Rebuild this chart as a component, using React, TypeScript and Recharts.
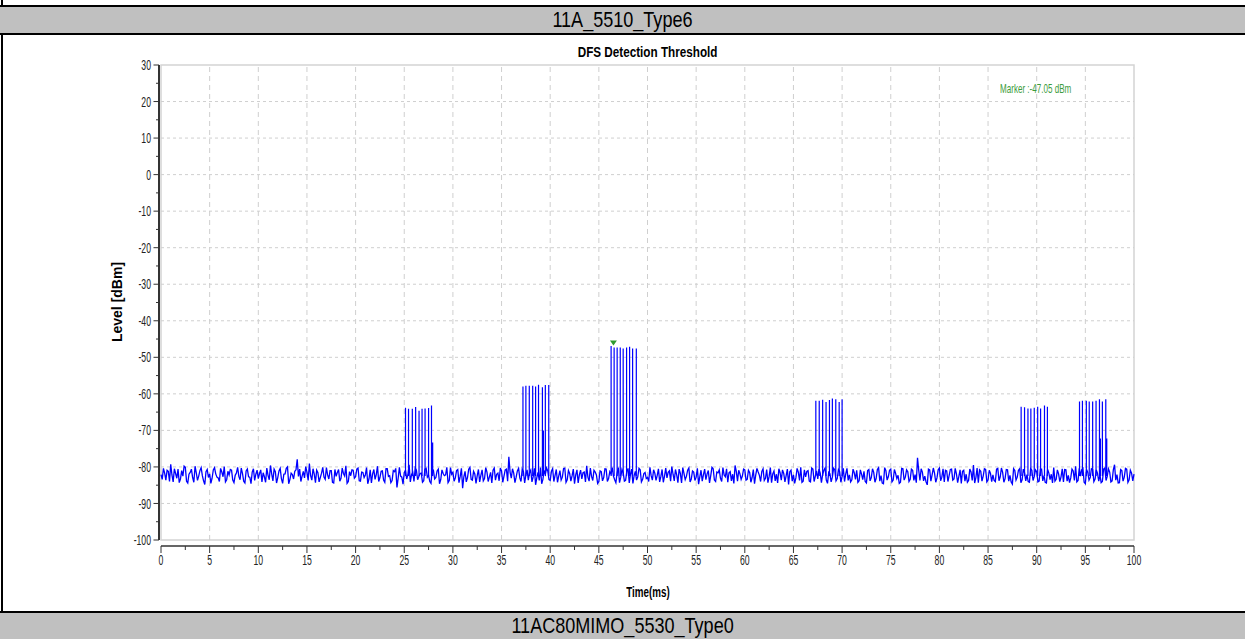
import { ComposedChart, Line, XAxis, YAxis, ReferenceLine, ReferenceArea, ReferenceDot } from "recharts";

// noise floor readings, every 0.25 ms from 0 to 100 ms
const noiseStepMs = 0.25;
const noiseLevels = [
  -82.1, -80.4, -83.6, -81.2, -79.3, -84.1, -81.8, -80.6, -83.3, -82.5,
  -80.1, -84.4, -81.5, -82.9, -79.8, -83.7, -81.0, -82.4, -84.8, -80.7,
  -81.9, -83.1, -80.2, -82.8, -84.0, -81.4, -79.9, -83.5, -82.2, -80.9,
  -84.3, -81.7, -82.6, -80.3, -83.9, -81.1, -82.7, -84.6, -80.5, -82.0,

  -83.2, -80.8, -81.6, -84.2, -82.3, -79.6, -83.8, -81.3, -82.9, -80.4,
  -84.5, -81.9, -80.0, -83.4, -82.1, -81.2, -77.9, -80.6, -82.5, -83.0,
  -81.4, -79.1, -83.6, -82.0, -80.9, -84.1, -81.7, -82.8, -80.2, -83.3,
  -81.0, -84.4, -82.6, -80.7, -83.1, -81.8, -79.7, -84.0, -82.4, -80.9,

  -82.7, -80.3, -83.9, -81.5, -82.2, -84.6, -80.8, -81.9, -83.4, -79.8,
  -82.9, -81.1, -84.2, -80.5, -82.4, -83.7, -81.3, -85.6, -80.1, -82.8,
  -81.6, -83.3, -79.4, -82.1, -84.0, -80.9, -82.6, -81.7, -83.8, -80.4,
  -82.3, -84.5, -81.0, -82.9, -80.6, -83.5, -81.8, -82.2, -84.3, -80.2,

  -81.5, -83.0, -80.7, -82.6, -85.8, -81.2, -82.9, -80.1, -83.6, -81.9,
  -82.4, -84.1, -80.8, -83.2, -81.4, -82.7, -84.4, -80.3, -82.0, -83.8,
  -81.1, -82.5, -80.6, -77.2, -83.1, -81.7, -82.8, -80.4, -84.0, -81.3,
  -82.2, -83.6, -80.9, -82.7, -84.9, -81.5, -80.2, -83.4, -82.0, -81.1,

  -83.7, -80.5, -82.3, -84.2, -81.0, -82.8, -80.3, -83.5, -81.8, -82.4,
  -84.6, -80.8, -82.1, -83.3, -81.4, -79.7, -83.9, -82.6, -80.9, -82.2,
  -84.0, -81.3, -82.9, -80.6, -83.2, -81.9, -82.5, -84.3, -80.2, -82.8,
  -81.6, -83.7, -80.4, -82.0, -84.5, -81.2, -82.7, -80.8, -83.4, -81.5,

  -82.9, -80.1, -83.6, -81.7, -82.3, -84.1, -80.7, -82.5, -83.0, -81.1,
  -79.9, -83.8, -82.2, -80.6, -84.4, -81.8, -82.6, -80.3, -83.3, -81.4,
  -82.8, -84.7, -80.9, -82.1, -83.5, -81.0, -82.4, -80.5, -84.0, -81.6,
  -83.1, -80.2, -82.7, -84.2, -81.3, -82.0, -79.6, -83.9, -81.9, -82.5,

  -80.8, -83.4, -81.5, -82.9, -84.6, -80.4, -82.3, -81.2, -83.7, -80.7,
  -82.6, -84.3, -81.1, -82.0, -80.5, -83.6, -81.8, -82.4, -84.8, -80.9,
  -82.2, -83.0, -81.4, -80.1, -83.9, -82.7, -81.0, -84.1, -80.6, -82.5,
  -83.3, -81.7, -82.1, -80.3, -84.5, -81.9, -82.8, -80.8, -83.2, -81.3,

  -82.6, -84.0, -80.4, -82.2, -83.5, -81.6, -80.9, -83.8, -82.0, -81.2,
  -84.4, -80.7, -82.9, -81.5, -83.1, -80.2, -82.4, -84.6, -81.0, -82.7,
  -80.6, -83.6, -81.8, -82.3, -84.2, -80.5, -82.8, -81.3, -83.4, -80.9,
  -82.1, -77.5, -83.7, -81.4, -82.5, -84.9, -80.8, -82.2, -81.7, -83.0,

  -80.3, -82.8, -84.1, -81.1, -82.4, -80.6, -83.3, -81.9, -82.6, -84.5,
  -80.9, -82.0, -83.7, -81.4, -79.5, -82.9, -84.3, -81.2, -82.5, -80.7,
  -83.6, -81.8, -82.2, -84.0, -80.4, -82.7, -81.5, -83.2, -80.8, -82.3,
  -84.7, -81.0, -82.8, -80.5, -83.5, -81.6, -82.1, -84.2, -80.9, -82.6,

  -81.3, -83.9, -80.6, -82.4, -84.4, -81.7, -82.0, -80.2, -83.4, -81.9,
  -82.7, -84.1, -80.8, -82.3, -83.0, -81.1, -79.8, -83.7, -82.5, -80.4,
  -84.6, -81.5, -82.9, -80.7, -83.3, -81.8, -82.2, -84.0, -80.3, -82.6,
  -81.4, -83.8, -79.4, -82.1, -84.3, -81.0, -82.8, -80.6, -83.5, -81.7,

  -82.0,
];

// in-between readings, 0.125 ms after each of the above
const noiseLevelsMid = [
  -83.4, -81.7, -80.9, -84.0, -82.2, -80.5, -83.1, -84.3, -81.0, -79.8,
  -83.9, -82.0, -80.6, -84.2, -81.6, -82.5, -80.2, -83.8, -81.3, -82.9,
  -84.5, -80.8, -81.9, -83.0, -80.4, -82.7, -84.1, -81.2, -80.7, -83.6,
  -82.3, -80.1, -83.5, -81.8, -84.4, -80.6, -82.8, -81.4, -83.7, -80.9,

  -81.8, -84.1, -82.7, -80.3, -83.5, -81.9, -80.6, -84.4, -81.1, -83.2,
  -82.0, -80.4, -84.6, -81.7, -83.3, -80.8, -82.6, -84.0, -81.2, -79.9,
  -83.7, -82.4, -80.5, -84.3, -81.6, -82.9, -80.1, -83.4, -82.2, -81.0,
  -84.2, -80.7, -81.5, -83.9, -80.3, -82.5, -84.5, -81.3, -80.8, -83.1,

  -80.6, -83.8, -81.4, -82.9, -80.2, -83.3, -84.4, -80.7, -82.1, -84.0,
  -81.2, -83.6, -80.5, -82.6, -84.3, -81.0, -80.4, -83.1, -82.5, -84.7,
  -80.9, -82.2, -84.1, -81.5, -80.3, -83.5, -81.8, -84.2, -80.6, -82.8,
  -84.0, -80.5, -83.3, -81.1, -84.6, -80.8, -82.4, -80.1, -83.7, -82.0,

  -83.9, -81.0, -84.3, -80.4, -82.7, -84.1, -80.6, -83.4, -81.2, -84.5,
  -80.7, -82.3, -83.8, -80.2, -84.0, -81.5, -80.9, -83.6, -81.7, -80.3,
  -84.2, -80.8, -83.9, -81.4, -80.5, -84.3, -81.1, -83.0, -80.6, -84.4,
  -80.8, -81.6, -84.1, -80.4, -82.9, -83.7, -84.6, -81.0, -80.3, -83.5,

  -81.2, -84.0, -80.7, -82.5, -83.6, -80.4, -84.2, -81.0, -83.9, -80.6,
  -82.2, -84.4, -80.9, -81.6, -84.1, -82.8, -80.3, -83.7, -81.4, -84.5,
  -81.1, -83.8, -80.5, -84.0, -81.3, -80.2, -83.5, -81.7, -84.3, -80.7,
  -83.9, -81.2, -84.4, -80.6, -82.4, -83.6, -80.4, -84.1, -81.8, -83.2,

  -84.0, -82.4, -80.8, -83.7, -80.5, -82.6, -84.2, -80.3, -81.5, -83.9,
  -82.0, -80.7, -84.3, -81.8, -80.2, -83.5, -80.9, -84.1, -81.1, -83.7,
  -80.4, -82.7, -83.9, -80.6, -81.9, -84.4, -80.1, -83.6, -81.4, -80.8,
  -84.0, -82.2, -80.5, -81.6, -83.8, -84.5, -81.2, -80.9, -83.4, -80.6,

  -83.6, -80.9, -84.2, -80.7, -82.2, -81.4, -84.0, -80.5, -83.1, -84.3,
  -80.2, -81.9, -83.8, -84.4, -81.6, -80.8, -84.1, -80.6, -81.3, -83.9,
  -84.5, -80.4, -83.7, -84.2, -80.8, -81.2, -83.9, -80.3, -84.0, -81.1,
  -80.6, -84.3, -80.9, -83.6, -81.5, -84.1, -80.4, -83.8, -80.7, -84.2,

  -80.4, -81.9, -83.7, -84.1, -80.6, -83.4, -84.2, -80.8, -83.5, -84.0,
  -81.0, -83.8, -80.5, -84.2, -80.7, -83.9, -84.4, -80.2, -83.6, -80.9,
  -84.1, -80.7, -83.2, -84.5, -80.4, -83.6, -80.8, -84.0, -80.6, -83.7,
  -84.3, -80.9, -80.5, -83.8, -84.1, -80.6, -83.9, -80.3, -84.2, -80.8,

  -83.8, -80.5, -80.9, -84.0, -80.7, -83.6, -80.4, -84.3, -80.8, -81.2,
  -83.9, -84.2, -80.6, -83.7, -84.4, -80.3, -80.8, -83.9, -80.5, -84.1,
  -80.9, -84.0, -83.7, -80.6, -83.8, -80.3, -84.2, -80.7, -83.9, -84.1,
  -80.5, -83.6, -80.9, -84.3, -80.6, -83.8, -84.0, -80.5, -83.7, -80.8,

  -84.1, -80.6, -83.8, -84.2, -80.7, -83.5, -84.4, -83.9, -80.8, -84.0,
  -80.5, -80.7, -83.9, -84.3, -80.6, -83.7, -84.1, -80.4, -80.8, -84.2,
  -80.7, -83.6, -80.5, -84.0, -80.8, -83.9, -84.3, -80.6, -83.7, -80.5,
  -84.1, -80.8, -83.6, -84.4, -80.7, -83.9, -80.4, -84.2, -80.9, -83.8,
];

// radar pulses (time ms, peak dBm)
const pulseTimes = [
  25.13, 25.44, 25.83, 26.17, 26.52, 26.83, 27.14, 27.5, 27.8,
  37.2, 37.5, 37.85, 38.2, 38.5, 38.8, 39.2, 39.5, 39.85,
  46.26, 46.57, 46.88, 47.2, 47.5, 47.85, 48.16, 48.47, 48.85,
  67.3, 67.65, 68.0, 68.35, 68.7, 69.0, 69.35, 69.7, 70.0,
  88.4, 88.75, 89.1, 89.4, 89.75, 90.1, 90.4, 90.8, 91.1,
  94.4, 94.7, 95.1, 95.4, 95.75, 96.1, 96.45, 96.75, 97.1,
];
const pulsePeaks = [
  -63.8, -64.1, -64.1, -63.6, -64.6, -64.1, -64.0, -63.9, -63.2,
  -58.0, -57.8, -57.8, -57.8, -58.0, -57.5, -58.2, -57.6, -57.6,
  -46.9, -47.3, -47.3, -47.3, -47.6, -47.3, -47.1, -47.6, -47.6,
  -61.9, -61.9, -61.6, -62.2, -61.7, -61.3, -61.5, -62.2, -61.5,
  -63.5, -63.7, -64.0, -64.0, -63.8, -63.5, -64.0, -63.2, -63.5,
  -62.1, -61.9, -61.9, -62.1, -62.1, -61.9, -61.5, -62.1, -61.5,
];
const shortPulseTimes = [27.92, 39.3, 96.55, 97.2];
const shortPulsePeaks = [-73.3, -70.0, -72.2, -72.2];
const pulseBase = -82.5;

const markerTime = 46.5;
const markerLevel = -47.05;

const xTicks = [
  0, 2.5, 5, 7.5, 10, 12.5, 15, 17.5, 20, 22.5, 25, 27.5, 30, 32.5, 35, 37.5, 40, 42.5, 45, 47.5, 50,
  52.5, 55, 57.5, 60, 62.5, 65, 67.5, 70, 72.5, 75, 77.5, 80, 82.5, 85, 87.5, 90, 92.5, 95, 97.5, 100,
];
const yTicks = [
  -100, -95, -90, -85, -80, -75, -70, -65, -60, -55, -50, -45, -40, -35, -30, -25, -20, -15, -10, -5,
  0, 5, 10, 15, 20, 25, 30,
];
const gridTimes = [5, 10, 15, 20, 25, 30, 35, 40, 45, 50, 55, 60, 65, 70, 75, 80, 85, 90, 95];
const gridLevels = [-90, -80, -70, -60, -50, -40, -30, -20, -10, 0, 10, 20];

const noiseTrace = [
  ...noiseLevels.map((v, i) => ({ t: i * noiseStepMs, v })),
  ...noiseLevelsMid.map((v, i) => ({ t: i * noiseStepMs + noiseStepMs / 2, v })),
].sort((a, b) => a.t - b.t);

type PulsePt = { t: number; p: number | null };
const pulseTrace: PulsePt[] = [];
const addPulse = (t: number, peak: number) => {
  pulseTrace.push({ t, p: pulseBase }, { t, p: peak }, { t, p: null });
};
pulseTimes.forEach((t, i) => addPulse(t, pulsePeaks[i]));
shortPulseTimes.forEach((t, i) => addPulse(t, shortPulsePeaks[i]));

const arial = "'Liberation Sans', Arial, sans-serif";

const YTick = (props: any) => {
  const { x, y, payload } = props;
  const major = payload.value % 10 === 0;
  return (
    <g>
      <line x1={x - (major ? 7.5 : 5)} x2={x - 2} y1={y} y2={y} stroke="#333" />
      {major && (
        <text
          transform={`translate(${x - 10},${y}) scale(0.62,1)`}
          dy="0.36em"
          textAnchor="end"
          fontSize={14}
          fontFamily={arial}
          fill="#222"
        >
          {payload.value}
        </text>
      )}
    </g>
  );
};

const XTick = (props: any) => {
  const { x, y, payload } = props;
  const major = payload.value % 5 === 0;
  return (
    <g>
      <line x1={x} x2={x} y1={y + 6} y2={y + (major ? 13 : 10)} stroke="#333" />
      {major && (
        <text
          transform={`translate(${x},${y + 25}) scale(0.62,1)`}
          textAnchor="middle"
          fontSize={14}
          fontFamily={arial}
          fill="#222"
        >
          {payload.value}
        </text>
      )}
    </g>
  );
};

const Marker = (props: any) => {
  const { cx, cy } = props;
  return <path d={`M${cx - 3.5},${cy - 6} L${cx + 3.5},${cy - 6} L${cx},${cy - 1} Z`} fill="#2f9a2f" />;
};

const band = (top: number): React.CSSProperties => ({
  position: "absolute",
  left: 0,
  top,
  width: 1245,
  height: 26,
  background: "#c0c0c0",
  borderTop: "2px solid #000",
  borderBottom: "2px solid #000",
  fontFamily: arial,
  fontSize: 22,
  lineHeight: "26px",
  textAlign: "center",
  color: "#000",
});
const squeeze = (sx: number, origin = "center"): React.CSSProperties => ({
  display: "inline-block",
  transform: `scaleX(${sx})`,
  transformOrigin: origin,
});

export default function App() {
  return (
    <div style={{ position: "absolute", left: 0, top: 0, width: 1245, height: 639, background: "#fff", overflow: "hidden" }}>
      <div style={{ position: "absolute", left: 1, top: 0, width: 2, height: 639, background: "#000" }} />
      <div style={band(5)}>
        <span style={squeeze(0.82)}>11A_5510_Type6</span>
      </div>
      <div style={band(611)}>
        <span style={squeeze(0.82)}>11AC80MIMO_5530_Type0</span>
      </div>

      <div style={{ position: "absolute", left: 0, top: 0 }}>
        <ComposedChart width={1245} height={639} data={noiseTrace} margin={{ top: 65, right: 111, bottom: 69, left: 0 }}>
          {gridLevels.map((g) => (
            <ReferenceLine key={"h" + g} y={g} stroke="#cfcfcf" strokeDasharray="3 3" />
          ))}
          {gridTimes.map((g) => (
            <ReferenceLine key={"v" + g} x={g} stroke="#cfcfcf" strokeDasharray="5 4" />
          ))}
          <ReferenceArea x1={0} x2={100} y1={-100} y2={30} fill="none" fillOpacity={0} stroke="#d4d4d4" strokeWidth={1.5} />
          <XAxis
            dataKey="t"
            type="number"
            domain={[0, 100]}
            ticks={xTicks}
            interval={0}
            height={30}
            tickSize={0}
            tickMargin={0}
            tickLine={false}
            axisLine={{ stroke: "#333", strokeWidth: 1.5, transform: "translate(0,6)" }}
            tick={<XTick />}
          />
          <YAxis
            type="number"
            domain={[-100, 30]}
            ticks={yTicks}
            interval={0}
            width={161}
            tickSize={0}
            tickMargin={0}
            tickLine={false}
            axisLine={{ stroke: "#333", strokeWidth: 2, transform: "translate(-2,0)" }}
            tick={<YTick />}
            allowDataOverflow
          />
          <Line
            dataKey="v"
            type="linear"
            stroke="#0000ff"
            strokeWidth={1.3}
            dot={false}
            activeDot={false}
            isAnimationActive={false}
          />
          <Line
            data={pulseTrace}
            dataKey="p"
            type="linear"
            stroke="#0000ff"
            strokeWidth={1.2}
            dot={false}
            activeDot={false}
            connectNulls={false}
            isAnimationActive={false}
          />
          <ReferenceDot x={markerTime} y={markerLevel} shape={<Marker />} />
        </ComposedChart>
      </div>

      <div style={{ position: "absolute", left: 161, width: 973, top: 44, lineHeight: "16px", textAlign: "center", fontFamily: arial, fontWeight: "bold", fontSize: 15 }}>
        <span style={squeeze(0.78)}>DFS Detection Threshold</span>
      </div>
      <div style={{ position: "absolute", left: 161, width: 973, top: 584, lineHeight: "16px", textAlign: "center", fontFamily: arial, fontWeight: "bold", fontSize: 14 }}>
        <span style={squeeze(0.7)}>Time(ms)</span>
      </div>
      <div
        style={{
          position: "absolute",
          left: 17,
          top: 293,
          width: 200,
          lineHeight: "18px",
          textAlign: "center",
          fontFamily: arial,
          fontWeight: "bold",
          fontSize: 14,
          transform: "rotate(-90deg)",
        }}
      >
        Level [dBm]
      </div>
      <div style={{ position: "absolute", left: 1000, top: 82, lineHeight: "14px", fontFamily: arial, fontSize: 13, color: "#3d9c3d", whiteSpace: "nowrap" }}>
        <span style={squeeze(0.62, "left")}>Marker :-47.05 dBm</span>
      </div>
    </div>
  );
}
